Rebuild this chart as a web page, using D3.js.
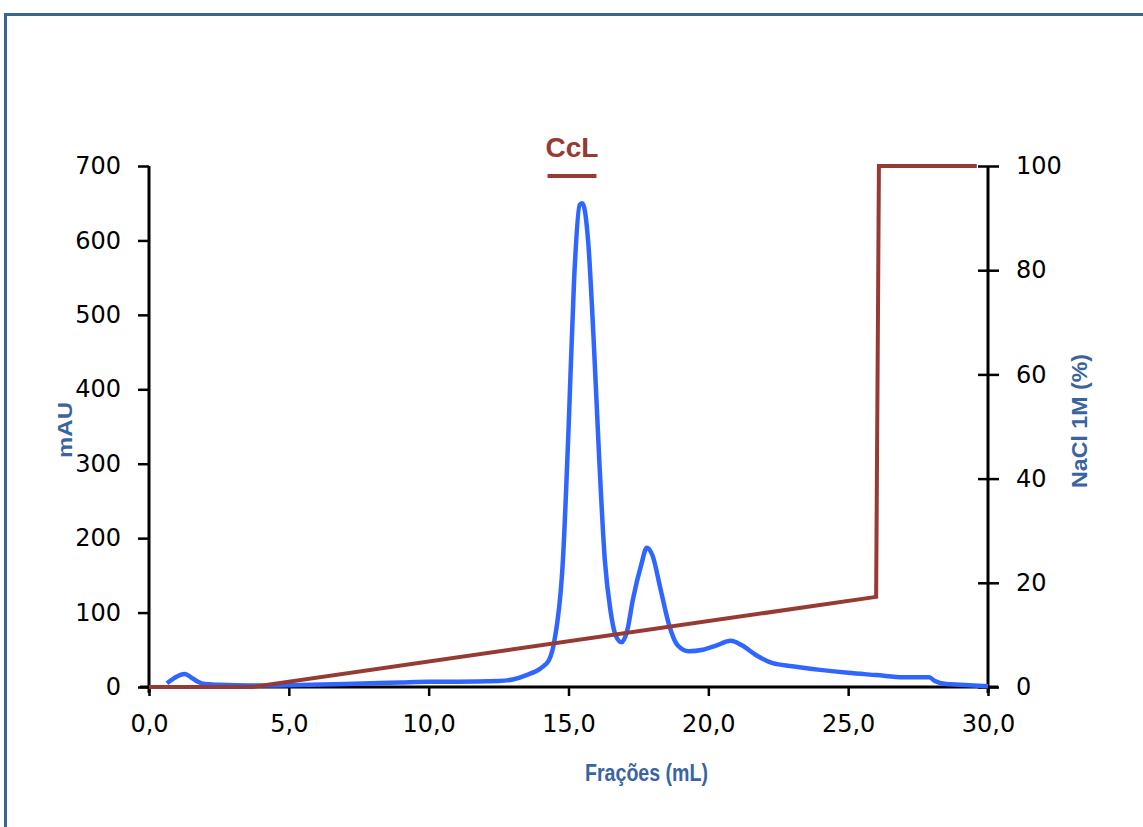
<!DOCTYPE html>
<html>
<head>
<meta charset="utf-8">
<script src="https://cdn.jsdelivr.net/npm/d3@7"></script>
<style>
  body { margin: 0; background: #fff; }
  svg { display: block; }
</style>
</head>
<body>
<div id="chart"></div>
<script>
// absorbance trace (mL, mAU)
var abs_ml  = [0.64, 0.9, 1.1, 1.29, 1.5, 1.75, 2.0, 2.5, 3.6, 5.0, 7.0, 9.0, 10.0, 11.0, 12.5, 13.0, 13.5, 14.0, 14.3, 14.5, 14.8, 15.0, 15.2, 15.4, 15.5, 15.7, 15.9, 16.1, 16.3, 16.5, 16.7, 16.9, 17.1, 17.3, 17.6, 17.8, 18.0, 18.3, 18.6, 18.9, 19.3, 19.8, 20.3, 20.8, 21.2, 21.7, 22.3, 23.0, 24.0, 25.0, 26.0, 27.0, 27.9, 28.1, 28.5, 29.0, 30.0];
var abs_mau = [5, 12, 16, 17.5, 13, 7, 4, 3, 2, 2.5, 4, 6, 7, 7, 8, 10, 16, 25, 36, 63, 170, 345, 547, 648, 650, 600, 466, 305, 170, 103, 68, 60, 76, 117, 164, 187, 177, 130, 83, 56, 48, 50, 56, 62, 56, 43, 32, 28, 23, 19, 16, 13, 13, 8, 4, 3, 1];

// NaCl gradient (mL, %)
var nacl_ml  = [0, 3.7, 26.0, 26.1, 29.6];
var nacl_pct = [0, 0, 17.3, 100, 100];

var left_ticks  = [0, 100, 200, 300, 400, 500, 600, 700];
var right_ticks = [0, 20, 40, 60, 80, 100];
var x_ticks     = [0, 5, 10, 15, 20, 25, 30];
var peak_label  = 'CcL';
var peak_range  = [14.25, 16.0];

var W = 1143, H = 827;
var m = {left: 149, right: 155, top: 166, bottom: 140};
var pw = W - m.left - m.right, ph = H - m.top - m.bottom;

var blue = '#2f66ff', red = '#963a34', title_col = '#3a64a0';
var sans = 'Liberation Sans, Arial, sans-serif';

var svg = d3.select('#chart').append('svg')
            .attr('width', W).attr('height', H);

// frame
svg.append('path')
   .attr('d', 'M5.5,' + H + ' L5.5,14.5 L' + W + ',14.5')
   .attr('fill', 'none').attr('stroke', '#3a6494').attr('stroke-width', 3);

var g = svg.append('g').attr('transform', 'translate(' + m.left + ',' + m.top + ')');

var x = d3.scaleLinear().domain([0, 30]).range([0, pw]);
var yL = d3.scaleLinear().domain([0, 700]).range([ph, 0]);
var yR = d3.scaleLinear().domain([0, 100]).range([ph, 0]);

var fmtX = function(d) { return d3.format('.1f')(d).replace('.', ','); };

// axes
var xa = g.append('g').attr('transform', 'translate(0,' + ph + ')')
          .call(d3.axisBottom(x).tickValues(x_ticks).tickFormat(fmtX).tickSize(9).tickPadding(19));
var la = g.append('g')
          .call(d3.axisLeft(yL).tickValues(left_ticks).tickSize(11).tickPadding(17));
var ra = g.append('g').attr('transform', 'translate(' + pw + ',0)')
          .call(d3.axisRight(yR).tickValues(right_ticks).tickSize(11).tickPadding(17));
ra.selectAll('.tick').append('line').attr('x2', -10).attr('stroke', '#000');

[xa, la, ra].forEach(function(a) {
  a.select('.domain').remove();
  a.selectAll('.tick line').attr('stroke', '#000').attr('stroke-width', 2.5);
  a.selectAll('.tick text').attr('fill', '#000')
   .style('font-family', 'DejaVu Sans, sans-serif').style('font-size', '24px');
});

// axis lines
g.append('line').attr('x1', 0).attr('x2', 0).attr('y1', 0).attr('y2', ph + 6)
 .attr('stroke', '#000').attr('stroke-width', 3);
g.append('line').attr('x1', pw).attr('x2', pw).attr('y1', 0).attr('y2', ph + 6)
 .attr('stroke', '#000').attr('stroke-width', 3);
g.append('line').attr('x1', -9).attr('x2', pw + 10).attr('y1', ph).attr('y2', ph)
 .attr('stroke', '#000').attr('stroke-width', 3);

// traces
var absLine = d3.line()
                .x(function(d, i) { return x(abs_ml[i]); })
                .y(function(d) { return yL(d); })
                .curve(d3.curveMonotoneX);
var naclLine = d3.line()
                 .x(function(d, i) { return x(nacl_ml[i]); })
                 .y(function(d) { return yR(d); });

g.append('path').datum(abs_mau)
 .attr('fill', 'none').attr('stroke', blue).attr('stroke-width', 4.5)
 .attr('stroke-linejoin', 'round').attr('d', absLine);
g.append('path').datum(nacl_pct)
 .attr('fill', 'none').attr('stroke', red).attr('stroke-width', 4)
 .attr('d', naclLine);

// peak marker
g.append('line')
 .attr('x1', x(peak_range[0])).attr('x2', x(peak_range[1]))
 .attr('y1', 10).attr('y2', 10)
 .attr('stroke', red).attr('stroke-width', 4);
g.append('text')
 .attr('x', x((peak_range[0] + peak_range[1]) / 2)).attr('y', -9)
 .attr('text-anchor', 'middle')
 .attr('fill', red).style('font-family', sans)
 .style('font-size', '28px').style('font-weight', 'bold')
 .text(peak_label);

// titles
svg.append('text')
   .attr('x', 585).attr('y', 781)
   .attr('fill', title_col)
   .attr('textLength', 123).attr('lengthAdjust', 'spacingAndGlyphs')
   .style('font-family', sans)
   .style('font-size', '24px').style('font-weight', 'bold')
   .text('Frações (mL)');
svg.append('text')
   .attr('transform', 'translate(72,458) rotate(-90)')
   .attr('fill', title_col)
   .attr('textLength', 56).attr('lengthAdjust', 'spacingAndGlyphs')
   .style('font-family', sans)
   .style('font-size', '21px').style('font-weight', 'bold')
   .text('mAU');
svg.append('text')
   .attr('transform', 'translate(1087,488) rotate(-90)')
   .attr('fill', title_col)
   .attr('textLength', 134).attr('lengthAdjust', 'spacingAndGlyphs')
   .style('font-family', sans)
   .style('font-size', '22px').style('font-weight', 'bold')
   .text('NaCl 1M (%)');
</script>
</body>
</html>
